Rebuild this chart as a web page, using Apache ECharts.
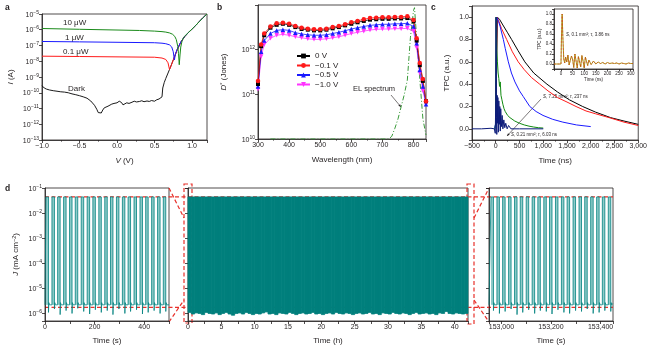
<!DOCTYPE html>
<html>
<head>
<meta charset="utf-8">
<title>Photodetector characterisation</title>
<script src="https://cdn.jsdelivr.net/npm/echarts@6.0.0/dist/echarts.min.js"></script>
<style>html,body{margin:0;padding:0;background:#fff;}</style>
</head>
<body>
<div id="main" style="width:650px;height:353px;"></div>
<script type="text/javascript">
var FONT = '"Liberation Sans", Arial, sans-serif';
var INK = '#231f20';

// ---- a: I-V curves (V in volts, I in amps)
var darkV = [-1.0,-0.97,-0.94,-0.9,-0.85,-0.8,-0.75,-0.7,-0.65,-0.6,-0.55,-0.5,-0.45,-0.4,-0.35,-0.3,-0.27,-0.25,-0.23,-0.21,-0.19,-0.17,-0.15,-0.12,-0.1,-0.07,-0.04,0,0.03,0.06,0.08,0.1,0.13,0.16,0.2,0.23,0.26,0.3,0.33,0.36,0.4,0.43,0.46,0.5,0.53,0.56,0.58,0.6,0.61,0.63,0.65,0.7,0.75,0.8,0.85,0.9,0.95,1.0,1.05,1.1,1.15,1.2];
var darkI = [2.8e-10,2.0e-10,1.7e-10,1.5e-10,1.35e-10,1.25e-10,1.15e-10,1.1e-10,1.0e-10,8.5e-11,7.5e-11,6.5e-11,5.5e-11,4.5e-11,3.0e-11,1.6e-11,9e-12,5.5e-12,7e-12,5.2e-12,8e-12,1.1e-11,1.2e-11,1.4e-11,1.6e-11,1.9e-11,2.1e-11,2.3e-11,2.9e-11,2.4e-11,1.7e-11,2.0e-11,2.3e-11,2.1e-11,2.5e-11,2.9e-11,2.6e-11,2.8e-11,3.1e-11,2.7e-11,3.0e-11,2.8e-11,3.2e-11,2.9e-11,3.6e-11,4.0e-11,5.0e-11,5.5e-11,2.0e-10,4.5e-10,8e-10,3e-9,1.2e-8,5e-8,1.6e-7,3.6e-7,6.5e-7,1.1e-6,1.9e-6,3.4e-6,6e-6,1e-5];
var redV = [-1,-0.5,0,0.5,0.6,0.65,0.68,0.7,0.72,0.75,0.8,0.85,0.9,0.95,1.0,1.05,1.1,1.15,1.2];
var redI = [2.1e-8,2.0e-8,1.9e-8,1.8e-8,1.6e-8,1.3e-8,8e-9,3e-9,5e-9,1.2e-8,5e-8,1.6e-7,3.6e-7,6.5e-7,1.1e-6,1.9e-6,3.4e-6,6e-6,1e-5];
var blueV = [-1,-0.5,0,0.5,0.6,0.65,0.7,0.73,0.75,0.765,0.78,0.8,0.85,0.9,0.95,1.0,1.05,1.1,1.15,1.2];
var blueI = [1.8e-7,1.7e-7,1.6e-7,1.5e-7,1.4e-7,1.3e-7,1.1e-7,8e-8,4e-8,1.2e-8,3e-8,5.5e-8,1.65e-7,3.6e-7,6.5e-7,1.1e-6,1.9e-6,3.4e-6,6e-6,1e-5];
var greenV = [-1,-0.5,0,0.3,0.5,0.6,0.65,0.7,0.74,0.77,0.79,0.81,0.82,0.83,0.84,0.85,0.87,0.9,0.95,1.0,1.05,1.1,1.15,1.2];
var greenI = [1.2e-6,1.07e-6,9.6e-7,9e-7,8.2e-7,7.6e-7,7.1e-7,6.3e-7,5.2e-7,3.8e-7,2.4e-7,9e-8,3e-8,6e-9,2.5e-8,8e-8,2.2e-7,3.8e-7,6.6e-7,1.1e-6,1.9e-6,3.4e-6,6e-6,1e-5];

// ---- b: detectivity (units of 1e12 Jones) and EL spectrum (normalised)
var wl = [300,310,320,340,360,380,400,420,440,460,480,500,520,540,560,580,600,620,640,660,680,700,720,740,760,780,800,810,820,830,840];
var dStar0 = [0.17,1.2,2.1,3.1,3.6,3.8,3.6,3.2,2.9,2.8,2.7,2.7,2.8,3.0,3.2,3.5,3.8,4.1,4.4,4.7,4.8,4.9,4.9,5.0,5.0,5.1,4.3,1.6,0.45,0.2,0.07];
var dStar01 = [0.2,1.3,2.3,3.3,3.9,4.0,3.8,3.4,3.1,2.95,2.85,2.85,2.95,3.2,3.4,3.7,4.1,4.4,4.8,5.1,5.2,5.3,5.3,5.4,5.4,5.6,4.6,1.8,0.5,0.22,0.07];
var dStar05 = [0.15,0.9,1.6,2.3,2.7,2.8,2.7,2.4,2.25,2.15,2.1,2.1,2.15,2.3,2.45,2.65,2.9,3.1,3.3,3.5,3.6,3.7,3.7,3.8,3.8,3.9,3.3,1.4,0.35,0.15,0.06];
var dStar10 = [0.13,0.7,1.3,1.8,2.1,2.2,2.1,1.95,1.85,1.75,1.7,1.7,1.75,1.85,1.95,2.1,2.3,2.45,2.6,2.75,2.85,2.9,2.9,2.95,2.95,3.0,2.6,1.1,0.3,0.12,0.06];
var dUnit = 1e12;
var elWl = [340,400,500,600,700,720,730,740,750,760,770,780,790,800,803,810,820,830,840];
var elVal = [0,0,0,0,0,0,0.02,0.08,0.15,0.24,0.33,0.44,0.76,0.96,0.98,0.75,0.45,0.15,0.03];

// ---- c: transient photocurrent [time ns, normalised]
var tpcBlack = [[0,0.05],[35,1.0],[80,0.98],[150,0.93],[250,0.86],[334,0.8],[470,0.7],[612,0.6],[800,0.5],[1078,0.4],[1300,0.33],[1550,0.26],[1830,0.2],[2100,0.15],[2420,0.1],[2700,0.07],[3000,0.04]];
var tpcRed = [[0,0.05],[25,1.0],[60,0.97],[120,0.9],[230,0.8],[350,0.69],[473,0.6],[600,0.53],[750,0.46],[925,0.4],[1100,0.34],[1300,0.28],[1500,0.24],[1690,0.2],[1900,0.16],[2100,0.135],[2390,0.1],[2700,0.06],[3000,0.03]];
var tpcBlue = [[-30,0],[0,0.05],[20,1.0],[60,0.96],[90,0.92],[160,0.8],[200,0.72],[265,0.6],[330,0.5],[404,0.42],[500,0.34],[578,0.29],[717,0.2],[850,0.155],[995,0.12],[1200,0.085],[1413,0.06],[1700,0.035],[2000,0.02]];
var tpcGreen = [[-20,0],[0,0.05],[8,1.0],[20,0.7],[35,0.6],[50,0.5],[65,0.45],[80,0.38],[95,0.42],[110,0.3],[130,0.26],[150,0.22],[175,0.18],[200,0.155],[250,0.12],[300,0.1],[400,0.07],[500,0.05],[600,0.035],[700,0.024],[800,0.016],[900,0.01],[1000,0.007]];
var tpcNavy = [[-500,0],[-300,0],[-100,0.005],[-30,0],[-10,-0.04],[0,0.25],[5,1.0],[10,0.45],[15,0.1],[22,-0.05],[30,0.3],[38,0.05],[45,0.28],[55,-0.03],[65,0.25],[75,0.04],[85,0.2],[95,-0.02],[105,0.18],[120,0.02],[135,0.12],[150,0.0],[170,0.08],[190,0.01],[210,0.05],[240,0.0],[270,0.03],[320,0.0],[500,0.0],[1000,0.0]];
var insetT = [-30,0,2,5,8,12,16,20,25,30,35,40,45,50,55,60,65,70,75,80,85,90,95,100,105,110,115,120,130,140,150,160,170,180,190,200,210,220,230,240,250,260,270,280,290,300,310];
var insetV = [0,0,0.5,1.0,0.55,0.1,0.02,0.14,0.04,0.18,-0.02,-0.06,0.16,0.1,-0.07,0.2,0.06,-0.08,0.15,0.12,-0.06,0.17,0.06,-0.08,0.14,0.05,-0.03,0.08,-0.01,0.06,0.0,0.04,0.01,0.03,0.0,0.03,0.01,0.02,0.01,0.02,0.0,0.02,0.01,0.0,0.02,0.01,0.01];

// ---- d: switching stability (J in mA cm^-2)
var dHigh = 0.044;
var dBase = 2.2e-6;
var dGuideLow = 1.75e-6;
var dOn = 10;
var offT = [1.5, 4, 8, 11];
var offLevels = [2.7, 2.2, 2.5, 2.1];
var leftRise = [4,28,51,75,99,122,146,170,193,217,241,264,288,312,335,359,383,406,430,454,477];
var leftDip = [1.1,1.5,0.9,1.3,1.0,1.6,1.2,0.95,1.4,1.1,1.3,0.9,1.5,1.0,1.2,1.4,0.95,1.1,1.3,1.0,1.2];
var rightRise = [152958,152982,153005,153029,153053,153076,153100,153124,153147,153171,153194,153218,153242,153265,153289,153313,153336,153360,153384,153407,153431];
var rightDip = [1.3,1.0,1.2,1.5,0.9,1.1,1.4,1.0,1.3,1.2,0.95,1.4,1.1,1.0,1.3,1.2,1.5,1.0,1.1,1.3,1.2];
var midStep = 0.5;
var midLow = [1.1,0.95,1.05,1.0,0.9,1.1,1.0,0.95,1.05,0.9,1.0,1.1,0.95,0.85,1.0,1.05,0.95,1.1,1.0,0.9,1.0,0.95,1.05,1.15,0.95,1.0,0.9,1.05,1.0,0.95,1.1,1.0,0.9,1.0,1.05,0.95,1.0,1.1,0.95,1.0,0.9,1.0,1.05,0.95,1.1,1.0,0.95,1.05,1.0,0.9,1.0,1.05,0.95,1.0,1.1,0.95,1.0,0.9,1.05,1.0,0.95,1.1,1.0,0.95,1.05,1.0,0.9,1.0,1.1,0.95,1.0,1.05,0.95,1.0,0.9,1.05,1.0,1.2,1.0,0.95,1.05,1.0,0.95,1.0];

function pairs(xs, ys, k) {
  return xs.map(function (x, i) { return [x, ys[i] * (k || 1)]; });
}
function squareTrace(rises, dips, xMin, xMax) {
  var pts = [[xMin, dBase]];
  rises.forEach(function (r, i) {
    var f = r + dOn;
    pts.push([r, dBase], [r, dHigh], [f, dHigh], [f, dips[i] * 1e-6]);
    offT.forEach(function (o, k) {
      if (f + o < xMax) pts.push([f + o, offLevels[k] * 1e-6]);
    });
  });
  pts.push([xMax, dBase]);
  return pts;
}

function logLabel(v) {
  var e = Math.log10(v), r = Math.round(e);
  if (Math.abs(e - r) > 1e-6) return '';
  return '{b|10}{s|' + (r < 0 ? '\u2212' + (-r) : r) + '}';
}
function minus(s) { return String(s).replace('-', '\u2212'); }
var labelRich = {
  b: {fontSize: 7, fontFamily: FONT, color: INK, verticalAlign: 'bottom'},
  s: {fontSize: 5, fontFamily: FONT, color: INK, verticalAlign: 'bottom', padding: [0, 0, 3.5, 0]}
};
var nameRich = {
  i: {fontSize: 8, fontFamily: FONT, color: INK, fontStyle: 'italic'},
  s: {fontSize: 5.5, fontFamily: FONT, color: INK, verticalAlign: 'bottom', padding: [0, 0, 4, 0]}
};

function axis(o) {
  return {
    gridIndex: o.grid, type: o.type || 'value', logBase: 10,
    min: o.min, max: o.max, interval: o.interval, splitNumber: o.split,
    show: o.show !== false,
    name: o.name || '', nameLocation: 'middle', nameGap: o.gap,
    nameTextStyle: {color: INK, fontSize: o.nameSize || 8, fontFamily: FONT, rich: nameRich},
    axisLine: {show: true, onZero: false, lineStyle: {color: INK, width: 0.8}},
    axisTick: {show: true, length: o.tick || 3, lineStyle: {color: INK, width: 0.8}},
    minorTick: {show: !!o.minor, splitNumber: o.minor || 2, length: 1.8, lineStyle: {color: INK, width: 0.6}},
    axisLabel: {show: o.labels !== false, formatter: o.fmt, rich: labelRich, color: INK,
      fontSize: o.labelSize || 7, fontFamily: FONT, margin: o.margin || 3, hideOverlap: false},
    splitLine: {show: false}
  };
}
function gridBox(left, top, width, height, bg) {
  return {left: left, top: top, width: width, height: height, containLabel: false,
    show: true, borderColor: INK, borderWidth: 0.8, backgroundColor: bg || 'transparent'};
}
function lineSeries(name, x, y, data, color, extra) {
  var s = {name: name, type: 'line', xAxisIndex: x, yAxisIndex: y, data: data,
    symbol: 'none', lineStyle: {color: color, width: 1}, itemStyle: {color: color},
    silent: true, clip: true};
  for (var k in extra) s[k] = extra[k];
  return s;
}

var myChart = echarts.init(document.getElementById('main'));

var option = {
  animation: false,
  backgroundColor: '#fff',
  textStyle: {fontFamily: FONT},
  grid: [
    gridBox(42, 14, 165, 126),
    gridBox(258, 5, 168, 134),
    gridBox(472, 6, 167, 134),
    gridBox(554, 9, 79, 60, '#fff'),
    gridBox(45, 188, 124, 133),
    gridBox(188, 188, 280, 133),
    gridBox(489, 188, 124, 133)
  ],
  legend: {
    left: 291, top: 47, orient: 'vertical', itemWidth: 13, itemHeight: 6, itemGap: 1.5,
    textStyle: {fontSize: 8, fontFamily: FONT, color: INK},
    data: ['0 V', '\u22120.1 V', '\u22120.5 V', '\u22121.0 V']
  },
  xAxis: [
    axis({grid: 0, min: -1, max: 1.2, interval: 0.5, minor: 2, name: '{i|V} (V)', gap: 17,
      fmt: function (v) { return Math.abs(v * 2 - Math.round(v * 2)) < 1e-6 ? minus(v.toFixed(1)) : ''; }}),
    axis({grid: 1, min: 300, max: 840, interval: 100, minor: 2, name: 'Wavelength (nm)', gap: 17,
      fmt: function (v) { return v % 100 === 0 ? String(v) : ''; }}),
    axis({grid: 2, min: -500, max: 3000, interval: 500, minor: 2, name: 'Time (ns)', gap: 17,
      fmt: function (v) { return minus(v.toLocaleString('en-US')); }}),
    axis({grid: 3, min: -30, max: 310, split: 6, tick: 2, labelSize: 4.5, margin: 2, name: 'Time (ns)',
      nameSize: 4.5, gap: 8,
      fmt: function (v) { return (v >= 0 && v <= 300 && v % 50 === 0) ? String(v) : ''; }}),
    axis({grid: 4, min: 0, max: 500, interval: 100, name: 'Time (s)', gap: 16,
      fmt: function (v) { return v % 200 === 0 ? String(v) : ''; }}),
    axis({grid: 5, min: 0, max: 42, interval: 2.5, name: 'Time (h)', gap: 16,
      fmt: function (v) { return v % 5 === 0 ? String(v) : ''; }}),
    axis({grid: 6, min: 152950, max: 153450, split: 5, name: 'Time (s)', gap: 16,
      fmt: function (v) { return v % 200 === 0 ? v.toLocaleString('en-US') : ''; }})
  ],
  yAxis: [
    axis({grid: 0, type: 'log', min: 1e-13, max: 1e-5, split: 8, name: '{i|I} (A)', gap: 27, fmt: logLabel}),
    axis({grid: 1, type: 'log', min: 1e10, max: 1e13, split: 3, name: '{i|D}{s|*} (Jones)', gap: 29,
      fmt: function (v) { return v > 5e12 ? '' : logLabel(v); }}),
    axis({grid: 1, min: 0, max: 1, show: false}),
    axis({grid: 2, min: -0.1, max: 1.1, interval: 0.1, name: 'TPC (a.u.)', gap: 21,
      fmt: function (v) { var n = Math.round(v * 10); return (n >= 0 && n % 2 === 0) ? (n / 10).toFixed(1) : ''; }}),
    axis({grid: 3, min: -0.1, max: 1.1, interval: 0.1, tick: 2, labelSize: 4.5, margin: 2,
      name: 'TPC (a.u.)', nameSize: 4.5, gap: 9,
      fmt: function (v) { var n = Math.round(v * 10); return (n >= 0 && n % 2 === 0) ? (n / 10).toFixed(1) : ''; }}),
    axis({grid: 4, type: 'log', min: 5e-7, max: 0.1, split: 6, name: '{i|J} (mA cm{s|\u22122})', gap: 24, fmt: logLabel}),
    axis({grid: 5, type: 'log', min: 5e-7, max: 0.1, split: 6, labels: false}),
    axis({grid: 6, type: 'log', min: 5e-7, max: 0.1, split: 6, labels: false})
  ],
  series: [
    // a
    lineSeries('Dark', 0, 0, pairs(darkV, darkI), '#000000', {lineStyle: {color: '#000', width: 0.9}}),
    lineSeries('0.1 uW', 0, 0, pairs(redV, redI), '#ff1a1a'),
    lineSeries('1 uW', 0, 0, pairs(blueV, blueI), '#1a1aff'),
    lineSeries('10 uW', 0, 0, pairs(greenV, greenI), '#1a8a1a'),
    // b
    lineSeries('EL spectrum', 1, 2, pairs(elWl, elVal), '#3a9a3a',
      {lineStyle: {color: '#3a9a3a', width: 1, type: [5, 2, 1, 2]}}),
    lineSeries('\u22121.0 V', 1, 1, pairs(wl, dStar10, dUnit), '#ff33ff',
      {symbol: 'triangle', symbolRotate: 180, symbolSize: 4.5, showSymbol: true, lineStyle: {color: '#ff33ff', width: 0.8}}),
    lineSeries('\u22120.5 V', 1, 1, pairs(wl, dStar05, dUnit), '#1a1aff',
      {symbol: 'triangle', symbolSize: 4.5, showSymbol: true, lineStyle: {color: '#1a1aff', width: 0.8}}),
    lineSeries('0 V', 1, 1, pairs(wl, dStar0, dUnit), '#000000',
      {symbol: 'rect', symbolSize: 4, showSymbol: true, lineStyle: {color: '#000', width: 0.8}}),
    lineSeries('\u22120.1 V', 1, 1, pairs(wl, dStar01, dUnit), '#ff1a1a',
      {symbol: 'circle', symbolSize: 4.5, showSymbol: true, lineStyle: {color: '#ff1a1a', width: 0.8}}),
    // c
    lineSeries('black', 2, 3, tpcBlack, '#000000'),
    lineSeries('red', 2, 3, tpcRed, '#ff1a1a'),
    lineSeries('blue', 2, 3, tpcBlue, '#1a1aff'),
    lineSeries('green', 2, 3, tpcGreen, '#118a11'),
    lineSeries('navy', 2, 3, tpcNavy, '#0b1a7a'),
    lineSeries('inset', 3, 4, pairs(insetT, insetV), '#a08c00', {lineStyle: {color: '#a08c00', width: 0.9}}),
    lineSeries('inset fit', 3, 4, pairs(insetT, insetV), '#e0301e', {lineStyle: {color: '#e0301e', width: 0.5, type: [2, 1.5]}}),
    // d
    {type: 'custom', xAxisIndex: 4, yAxisIndex: 5, silent: true, encode: {x: [0, 1], y: [2, 3]},
      data: leftRise.map(function (r) { return [r, r + dOn, dHigh, dBase]; }), renderItem: columnItem},
    lineSeries('left trace', 4, 5, squareTrace(leftRise, leftDip, 0, 500), '#00827f', {lineStyle: {color: '#00827f', width: 0.8}}),
    {type: 'custom', xAxisIndex: 5, yAxisIndex: 6, silent: true, encode: {x: [0, 1], y: [2, 3]},
      data: midLow.map(function (v, i) { return [i * midStep, (i + 1) * midStep, dHigh, v * 1e-6]; }), renderItem: bandItem},
    {type: 'custom', xAxisIndex: 6, yAxisIndex: 7, silent: true, encode: {x: [0, 1], y: [2, 3]},
      data: rightRise.map(function (r) { return [r, r + dOn, dHigh, dBase]; }), renderItem: columnItem},
    lineSeries('right trace', 6, 7, squareTrace(rightRise, rightDip, 152950, 153450), '#00827f', {lineStyle: {color: '#00827f', width: 0.8}})
  ]
};

function columnItem(params, api) {
  var p0 = api.coord([api.value(0), api.value(2)]);
  var p1 = api.coord([api.value(1), api.value(3)]);
  return {type: 'rect', shape: {x: p0[0], y: p0[1], width: p1[0] - p0[0], height: p1[1] - p0[1]},
    style: {fill: '#8fcbc9'}};
}
function bandItem(params, api) {
  var p0 = api.coord([api.value(0), api.value(2)]);
  var p1 = api.coord([api.value(1), api.value(3)]);
  return {type: 'rect', shape: {x: p0[0], y: p0[1], width: p1[0] - p0[0], height: p1[1] - p0[1]},
    style: {fill: '#007f7c', stroke: '#007f7c', lineWidth: 0.8}};
}

myChart.setOption(option);

// annotations
function text(x, y, str, size, extra) {
  var st = {text: str, x: 0, y: 0, fill: INK, fontSize: size, fontFamily: FONT, verticalAlign: 'middle',
    rich: {i: {fontStyle: 'italic', fontSize: size, fontFamily: FONT, fill: INK}}};
  for (var k in extra) st[k] = extra[k];
  return {type: 'text', x: x, y: y, silent: true, style: st};
}
function arrow(x1, y1, x2, y2, color, w, head) {
  var a = Math.atan2(y2 - y1, x2 - x1), L = head || 4, s = 0.4;
  return [
    {type: 'line', silent: true, shape: {x1: x1, y1: y1, x2: x2, y2: y2}, style: {stroke: color, lineWidth: w}},
    {type: 'polygon', silent: true, shape: {points: [[x2, y2],
      [x2 - L * Math.cos(a - s), y2 - L * Math.sin(a - s)],
      [x2 - L * Math.cos(a + s), y2 - L * Math.sin(a + s)]]}, style: {fill: color}}
  ];
}
function dashed(x1, y1, x2, y2) {
  return {type: 'line', silent: true, shape: {x1: x1, y1: y1, x2: x2, y2: y2},
    style: {stroke: '#e8302a', lineWidth: 1.2, lineDash: [4, 2.5]}};
}

var yTop = myChart.convertToPixel({yAxisIndex: 5}, dHigh);
var yLow = myChart.convertToPixel({yAxisIndex: 5}, dGuideLow);

var g = [
  text(5, 8, 'a', 8.5, {fontWeight: 'bold'}),
  text(217, 8, 'b', 8.5, {fontWeight: 'bold'}),
  text(431, 8, 'c', 8.5, {fontWeight: 'bold'}),
  text(5, 189, 'd', 8.5, {fontWeight: 'bold'}),
  text(63, 23, '10 \u03bcW', 8),
  text(65, 38, '1 \u03bcW', 8),
  text(63, 52, '0.1 \u03bcW', 8),
  text(68, 89, 'Dark', 8),
  text(353, 89, 'EL spectrum', 7.5),
  text(543, 97, '{i|S}, 7.25 mm\u00b2; {i|\u03c4}, 237 ns', 4.5),
  text(511, 135, '{i|S}, 0.21 mm\u00b2; {i|\u03c4}, 6.03 ns', 4.5),
  text(566, 35, '{i|S}, 0.1 mm\u00b2; {i|\u03c4}, 3.86 ns', 4.5),
  dashed(45, yTop, 613, yTop),
  dashed(45, yLow, 613, yLow),
  {type: 'rect', silent: true, shape: {x: 184, y: 184, width: 8, height: 139},
    style: {fill: 'none', stroke: '#e8302a', lineWidth: 1.2, lineDash: [4, 2.5]}},
  {type: 'rect', silent: true, shape: {x: 467, y: 184, width: 7, height: 140},
    style: {fill: 'none', stroke: '#e8302a', lineWidth: 1.2, lineDash: [4, 2.5]}},
  dashed(169, 188, 184, 218),
  dashed(169, 322, 184, 300),
  dashed(474, 218, 489, 188),
  dashed(474, 300, 489, 322)
].concat(arrow(391, 95, 401, 107, INK, 0.6, 3))
 .concat(arrow(541, 99, 507, 136, INK, 0.6, 3));

myChart.setOption({graphic: {elements: g}});
</script>
</body>
</html>
